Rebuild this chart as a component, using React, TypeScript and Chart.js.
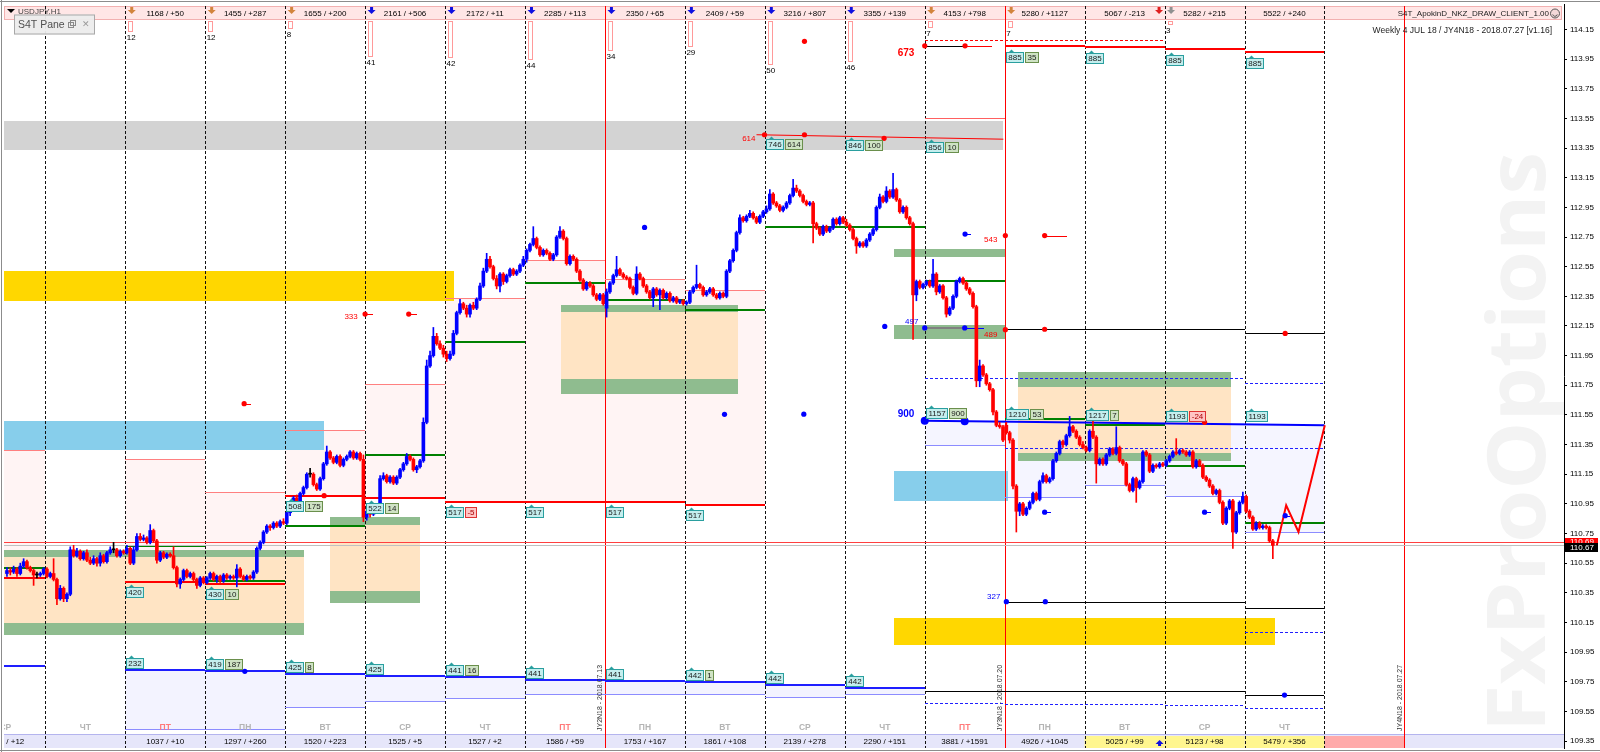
import React, { useEffect, useRef } from "react";
import { Chart, registerables } from "chart.js";

Chart.register(...registerables);

const FONT = '"Liberation Sans", "DejaVu Sans", sans-serif';

// x = hours counted from Thursday 00:00 (day 0); y = USDJPY price
const X_MIN = -12.39;
const X_MAX = 455.9;
const Y_MIN = 109.303;
const Y_MAX = 114.322;

const priceTicks = [114.15, 113.95, 113.75, 113.55, 113.35, 113.15, 112.95, 112.75, 112.55, 112.35, 112.15, 111.95, 111.75, 111.55, 111.35, 111.15, 110.95, 110.75, 110.55, 110.35, 110.15, 109.95, 109.75, 109.55, 109.35];

// ---- H1 candles [open, high, low, close] ----
const dayM1 = [
  [110.48,110.52,110.46,110.50],[110.50,110.52,110.47,110.49],[110.49,110.53,110.48,110.51],[110.51,110.52,110.46,110.48],
  [110.48,110.55,110.47,110.53],[110.53,110.58,110.52,110.56],[110.56,110.57,110.51,110.52],[110.52,110.53,110.49,110.50],
  [110.50,110.51,110.40,110.47],[110.47,110.49,110.45,110.47],[110.47,110.49,110.46,110.48],[110.48,110.52,110.47,110.51]];
const day0 = [
  [110.51,110.52,110.45,110.46],[110.46,110.49,110.45,110.48],[110.48,110.58,110.43,110.44],[110.44,110.45,110.27,110.31],
  [110.31,110.40,110.30,110.38],[110.38,110.39,110.29,110.31],[110.31,110.35,110.29,110.34],[110.34,110.66,110.33,110.64],
  [110.64,110.67,110.59,110.60],[110.60,110.65,110.59,110.63],[110.63,110.64,110.57,110.58],[110.58,110.63,110.57,110.62],
  [110.62,110.64,110.56,110.57],[110.57,110.59,110.54,110.55],[110.55,110.60,110.54,110.58],[110.58,110.59,110.53,110.55],
  [110.55,110.62,110.53,110.60],[110.60,110.61,110.55,110.56],[110.56,110.63,110.55,110.62],[110.62,110.66,110.61,110.64],
  [110.64,110.69,110.62,110.64],[110.64,110.65,110.59,110.60],[110.60,110.64,110.59,110.63],[110.63,110.64,110.61,110.62]];
const day1 = [
  [110.62,110.67,110.61,110.65],[110.65,110.66,110.54,110.55],[110.55,110.66,110.54,110.64],[110.64,110.75,110.63,110.73],
  [110.73,110.75,110.70,110.71],[110.71,110.74,110.70,110.72],[110.72,110.73,110.68,110.69],[110.69,110.81,110.68,110.77],
  [110.77,110.78,110.69,110.70],[110.70,110.71,110.55,110.57],[110.57,110.63,110.56,110.62],[110.62,110.63,110.58,110.59],
  [110.59,110.62,110.58,110.61],[110.61,110.62,110.59,110.60],[110.60,110.66,110.51,110.52],[110.52,110.53,110.39,110.41],
  [110.41,110.45,110.38,110.44],[110.44,110.51,110.43,110.50],[110.50,110.51,110.45,110.46],[110.46,110.49,110.45,110.48],
  [110.48,110.49,110.43,110.44],[110.44,110.45,110.38,110.40],[110.40,110.46,110.39,110.45],[110.45,110.46,110.41,110.42]];
const day2 = [
  [110.42,110.46,110.41,110.45],[110.45,110.49,110.44,110.48],[110.48,110.49,110.43,110.44],[110.44,110.47,110.42,110.46],
  [110.46,110.47,110.42,110.43],[110.43,110.48,110.42,110.47],[110.47,110.48,110.44,110.45],[110.45,110.47,110.44,110.46],
  [110.46,110.47,110.44,110.45],[110.45,110.54,110.39,110.51],[110.51,110.52,110.45,110.46],[110.46,110.47,110.43,110.44],
  [110.44,110.47,110.43,110.46],[110.46,110.47,110.44,110.45],[110.45,110.50,110.44,110.49],[110.49,110.66,110.48,110.65],
  [110.65,110.70,110.64,110.69],[110.69,110.77,110.68,110.76],[110.76,110.81,110.75,110.80],[110.80,110.81,110.77,110.79],
  [110.79,110.83,110.78,110.82],[110.82,110.83,110.79,110.80],[110.80,110.84,110.79,110.83],[110.83,110.85,110.81,110.82]];
const day3 = [
  [110.82,110.90,110.81,110.89],[110.89,110.92,110.87,110.91],[110.91,111.00,110.90,110.99],[110.99,111.01,110.96,110.97],
  [110.97,111.03,110.96,111.02],[111.02,111.07,111.01,111.06],[111.06,111.16,111.05,111.15],[111.15,111.19,111.13,111.15],
  [111.15,111.16,111.07,111.08],[111.08,111.09,111.04,111.05],[111.05,111.13,111.04,111.12],[111.12,111.23,111.11,111.22],
  [111.22,111.34,111.21,111.30],[111.30,111.31,111.25,111.26],[111.26,111.27,111.22,111.23],[111.23,111.28,111.22,111.27],
  [111.27,111.28,111.20,111.21],[111.21,111.26,111.20,111.25],[111.25,111.28,111.24,111.27],[111.27,111.31,111.26,111.30],
  [111.30,111.31,111.25,111.26],[111.26,111.30,111.25,111.29],[111.29,111.30,111.24,111.25],[111.25,111.28,110.83,110.86]];
const day4 = [
  [110.86,110.92,110.84,110.90],[110.90,110.91,110.86,110.88],[110.88,110.91,110.87,110.90],[110.90,110.95,110.89,110.94],
  [110.94,111.14,110.93,111.12],[111.12,111.16,111.11,111.14],[111.14,111.15,111.09,111.10],[111.10,111.14,111.09,111.13],
  [111.13,111.14,111.08,111.09],[111.09,111.14,111.08,111.13],[111.13,111.19,111.12,111.18],[111.18,111.23,111.17,111.22],
  [111.22,111.29,111.21,111.27],[111.27,111.28,111.24,111.25],[111.25,111.26,111.17,111.18],[111.18,111.21,111.16,111.20],
  [111.20,111.25,111.19,111.24],[111.24,111.53,111.23,111.50],[111.50,111.92,111.49,111.88],[111.88,111.98,111.87,111.95],
  [111.95,112.14,111.94,112.08],[112.08,112.10,112.02,112.03],[112.03,112.05,111.99,112.00],[112.00,112.02,111.94,111.96]];
const day5 = [
  [111.96,111.98,111.91,111.93],[111.93,111.98,111.92,111.96],[111.96,112.12,111.95,112.10],[112.10,112.25,112.09,112.24],
  [112.24,112.33,112.23,112.30],[112.30,112.31,112.26,112.27],[112.27,112.29,112.21,112.23],[112.23,112.30,112.21,112.29],
  [112.29,112.31,112.26,112.27],[112.27,112.34,112.26,112.33],[112.33,112.44,112.32,112.42],[112.42,112.54,112.41,112.52],
  [112.52,112.64,112.51,112.60],[112.60,112.62,112.54,112.55],[112.55,112.56,112.46,112.47],[112.47,112.49,112.40,112.42],
  [112.42,112.51,112.38,112.50],[112.50,112.51,112.43,112.45],[112.45,112.50,112.44,112.49],[112.49,112.54,112.48,112.53],
  [112.53,112.54,112.49,112.50],[112.50,112.53,112.49,112.52],[112.52,112.57,112.51,112.56],[112.56,112.62,112.55,112.60]];
const day6 = [
  [112.60,112.67,112.58,112.66],[112.66,112.71,112.65,112.70],[112.70,112.82,112.69,112.74],[112.74,112.75,112.67,112.68],
  [112.68,112.69,112.62,112.63],[112.63,112.67,112.62,112.66],[112.66,112.67,112.63,112.64],[112.64,112.65,112.59,112.60],
  [112.60,112.64,112.59,112.63],[112.63,112.76,112.62,112.75],[112.75,112.82,112.74,112.79],[112.79,112.80,112.73,112.74],
  [112.74,112.75,112.56,112.57],[112.57,112.63,112.56,112.62],[112.62,112.63,112.59,112.60],[112.60,112.61,112.51,112.52],
  [112.52,112.53,112.45,112.46],[112.46,112.47,112.39,112.40],[112.40,112.45,112.39,112.44],[112.44,112.45,112.41,112.42],
  [112.42,112.43,112.35,112.36],[112.36,112.37,112.32,112.33],[112.33,112.37,112.32,112.36],[112.36,112.37,112.29,112.30]];
const day7 = [
  [112.27,112.40,112.21,112.38],[112.38,112.45,112.37,112.44],[112.44,112.50,112.43,112.49],[112.49,112.62,112.48,112.53],
  [112.53,112.54,112.49,112.50],[112.50,112.51,112.47,112.48],[112.48,112.49,112.46,112.47],[112.47,112.48,112.40,112.41],
  [112.41,112.42,112.36,112.37],[112.37,112.55,112.36,112.50],[112.50,112.51,112.46,112.47],[112.47,112.48,112.41,112.42],
  [112.42,112.43,112.37,112.38],[112.38,112.39,112.33,112.34],[112.34,112.41,112.28,112.40],[112.40,112.41,112.35,112.36],
  [112.36,112.40,112.26,112.39],[112.39,112.40,112.33,112.34],[112.34,112.38,112.33,112.37],[112.37,112.38,112.31,112.32],
  [112.32,112.35,112.31,112.34],[112.34,112.35,112.30,112.31],[112.31,112.33,112.30,112.32],[112.32,112.33,112.29,112.30]];
const day8 = [
  [112.30,112.32,112.29,112.31],[112.31,112.39,112.30,112.38],[112.38,112.42,112.37,112.41],[112.41,112.56,112.40,112.43],
  [112.43,112.44,112.40,112.41],[112.41,112.42,112.35,112.36],[112.36,112.39,112.35,112.38],[112.38,112.41,112.37,112.40],
  [112.40,112.41,112.35,112.36],[112.36,112.37,112.33,112.34],[112.34,112.38,112.33,112.37],[112.37,112.38,112.34,112.35],
  [112.35,112.53,112.34,112.52],[112.52,112.60,112.51,112.59],[112.59,112.67,112.58,112.66],[112.66,112.79,112.65,112.78],
  [112.78,112.90,112.77,112.88],[112.88,112.89,112.85,112.86],[112.86,112.90,112.85,112.89],[112.89,112.93,112.88,112.91],
  [112.91,112.92,112.87,112.88],[112.88,112.89,112.84,112.85],[112.85,112.90,112.84,112.89],[112.89,112.93,112.88,112.92]];
const day9 = [
  [112.92,112.96,112.91,112.94],[112.94,113.07,112.93,113.04],[113.04,113.05,112.97,112.98],[112.98,112.99,112.95,112.96],
  [112.96,112.97,112.92,112.93],[112.93,112.96,112.92,112.95],[112.95,112.99,112.94,112.98],[112.98,113.04,112.97,113.03],
  [113.03,113.14,113.02,113.08],[113.08,113.10,113.05,113.06],[113.06,113.07,113.02,113.03],[113.03,113.04,112.98,112.99],
  [112.99,113.00,112.96,112.97],[112.97,112.99,112.96,112.98],[112.98,112.99,112.71,112.84],[112.84,112.85,112.80,112.81],
  [112.81,112.82,112.76,112.77],[112.77,112.83,112.76,112.82],[112.82,112.83,112.78,112.79],[112.79,112.82,112.78,112.81],
  [112.81,112.88,112.80,112.87],[112.87,112.88,112.83,112.84],[112.84,112.89,112.83,112.88],[112.88,112.89,112.84,112.85]];
const day10 = [
  [112.85,112.87,112.82,112.83],[112.83,112.84,112.79,112.80],[112.80,112.81,112.73,112.74],[112.74,112.75,112.64,112.69],
  [112.69,112.72,112.68,112.71],[112.71,112.72,112.68,112.69],[112.69,112.74,112.68,112.73],[112.73,112.78,112.72,112.77],
  [112.77,112.81,112.76,112.80],[112.80,112.96,112.79,112.95],[112.95,113.04,112.94,113.02],[113.02,113.03,112.98,112.99],
  [112.99,113.09,112.98,113.06],[113.06,113.07,113.01,113.02],[113.02,113.18,113.01,113.07],[113.07,113.08,112.99,113.00],
  [113.00,113.01,112.91,112.92],[112.92,112.96,112.91,112.95],[112.95,112.96,112.87,112.88],[112.88,112.89,112.83,112.84],
  [112.84,112.85,112.06,112.36],[112.36,112.46,112.32,112.45],[112.45,112.46,112.40,112.41],[112.41,112.44,112.40,112.43]];
const day11 = [
  [112.43,112.46,112.42,112.45],[112.45,112.46,112.41,112.42],[112.42,112.60,112.41,112.50],[112.50,112.51,112.36,112.38],
  [112.38,112.43,112.37,112.42],[112.42,112.43,112.33,112.34],[112.34,112.35,112.21,112.23],[112.23,112.28,112.22,112.27],
  [112.27,112.36,112.26,112.35],[112.35,112.46,112.34,112.45],[112.45,112.48,112.44,112.47],[112.47,112.48,112.43,112.44],
  [112.44,112.45,112.39,112.40],[112.40,112.41,112.36,112.37],[112.37,112.38,112.27,112.28],[112.28,112.29,111.74,111.78],
  [111.78,111.92,111.74,111.88],[111.88,111.89,111.81,111.82],[111.82,111.83,111.75,111.76],[111.76,111.77,111.71,111.72],
  [111.72,111.73,111.55,111.57],[111.57,111.58,111.47,111.48],[111.48,111.50,111.46,111.47],[111.47,111.48,111.37,111.38]];
const day12 = [
  [111.48,111.50,111.42,111.43],[111.43,111.44,111.36,111.38],[111.38,111.39,111.05,111.07],[111.07,111.08,110.76,110.90],
  [110.90,110.96,110.87,110.95],[110.95,110.96,110.87,110.88],[110.88,110.93,110.87,110.92],[110.92,110.97,110.91,110.96],
  [110.96,111.03,110.95,111.02],[111.02,111.03,110.97,110.98],[110.98,111.11,110.97,111.10],[111.10,111.16,111.09,111.14],
  [111.14,111.15,111.09,111.10],[111.10,111.13,111.09,111.12],[111.12,111.25,111.11,111.24],[111.24,111.30,111.23,111.29],
  [111.29,111.38,111.28,111.37],[111.37,111.38,111.33,111.35],[111.35,111.42,111.34,111.41],[111.41,111.54,111.40,111.47],
  [111.47,111.48,111.43,111.44],[111.44,111.45,111.39,111.40],[111.40,111.41,111.34,111.35],[111.35,111.37,111.32,111.33]];
const day13 = [
  [111.33,111.34,111.30,111.31],[111.31,111.45,111.30,111.44],[111.44,111.53,111.39,111.40],[111.40,111.41,111.09,111.22],
  [111.22,111.26,111.21,111.25],[111.25,111.26,111.21,111.22],[111.22,111.29,111.21,111.28],[111.28,111.33,111.27,111.32],
  [111.32,111.33,111.28,111.29],[111.29,111.47,111.28,111.33],[111.33,111.34,111.23,111.24],[111.24,111.25,111.21,111.22],
  [111.22,111.23,111.07,111.08],[111.08,111.09,111.03,111.04],[111.04,111.13,111.03,111.12],[111.12,111.13,110.96,111.06],
  [111.06,111.11,111.05,111.10],[111.10,111.31,111.09,111.30],[111.30,111.31,111.27,111.28],[111.28,111.29,111.16,111.17],
  [111.17,111.22,111.16,111.21],[111.21,111.22,111.19,111.20],[111.20,111.23,111.19,111.22],[111.22,111.23,111.20,111.21]];
const day14 = [
  [111.21,111.25,111.20,111.24],[111.24,111.28,111.23,111.27],[111.27,111.31,111.26,111.30],[111.30,111.39,111.28,111.29],
  [111.29,111.32,111.28,111.31],[111.31,111.32,111.29,111.30],[111.30,111.31,111.27,111.28],[111.28,111.31,111.27,111.30],
  [111.30,111.31,111.19,111.20],[111.20,111.25,111.19,111.24],[111.24,111.25,111.20,111.21],[111.21,111.22,111.12,111.13],
  [111.13,111.14,111.10,111.11],[111.11,111.12,111.06,111.07],[111.07,111.08,111.01,111.02],[111.02,111.05,111.01,111.04],
  [111.04,111.05,110.95,110.96],[110.96,110.97,110.81,110.82],[110.82,110.93,110.81,110.92],[110.92,110.98,110.91,110.97],
  [110.97,110.98,110.65,110.76],[110.76,110.90,110.75,110.89],[110.89,110.97,110.88,110.96],[110.96,111.03,110.95,111.00]];
const day15 = [
  [111.00,111.01,110.89,110.90],[110.90,110.91,110.85,110.86],[110.86,110.87,110.77,110.78],[110.78,110.83,110.77,110.82],
  [110.82,110.83,110.78,110.79],[110.79,110.81,110.78,110.80],[110.80,110.81,110.78,110.79],[110.79,110.80,110.69,110.70],
  [110.70,110.71,110.58,110.67]];

// [day index, first hour, bars]
const candleDays = [[-1, 12, dayM1], [0, 0, day0], [1, 0, day1], [2, 0, day2], [3, 0, day3], [4, 0, day4], [5, 0, day5], [6, 0, day6], [7, 0, day7], [8, 0, day8], [9, 0, day9], [10, 0, day10], [11, 0, day11], [12, 0, day12], [13, 0, day13], [14, 0, day14], [15, 0, day15]];

const bidPrice = 110.67;
const askPrice = 110.69;

// ---- zones [hourFrom, hourTo, priceA, priceB] ----
const grayZone = [X_MIN, 287.5, 113.34, 113.53];
const yellowZoneTop = [X_MIN, 122.7, 112.32, 112.52];
const blueZoneLeft = [X_MIN, 83.7, 111.31, 111.51];
const blueZoneRight = [254.9, 288.9, 110.97, 111.17];
const yellowZoneBottom = [254.9, 369.1, 109.995, 110.18];
// [hourFrom, hourTo, greenTop, peachTop, peachBottom, greenBottom]
const zoneBoxes = [
  [X_MIN, 77.7, 110.64, 110.59, 110.147, 110.065],
  [85.6, 112.5, 110.86, 110.81, 110.36, 110.28],
  [154.8, 207.9, 112.293, 112.241, 111.789, 111.688],
  [292.0, 356.0, 111.838, 111.738, 111.29, 111.24],
];
const greenBands = [[254.9, 288.2, 112.618, 112.667], [254.9, 288.2, 112.065, 112.159]];

// ---- daily levels [day, price] ----
const dayHighLine = [[-1, 111.31], [1, 111.25], [2, 111.03], [3, 111.45], [4, 111.756], [5, 112.34], [6, 112.595], [7, 112.466], [8, 112.394]];
const dayLowLine = [[-1, 110.45], [1, 110.42], [2, 110.41], [3, 111.005], [4, 110.99], [5, 110.96], [6, 110.96], [7, 110.96], [8, 110.94]];
const dayPivot = [[-1, 110.52], [1, 110.665], [2, 110.43], [3, 110.80], [4, 111.28], [5, 112.04], [6, 112.443], [7, 112.322], [8, 112.255], [9, 112.815], [10, 112.815], [11, 112.45], [12, 111.525], [13, 111.483], [14, 111.207], [15, 110.82]];
const weekLow = [[-1, 109.855], [1, 109.83], [2, 109.82], [3, 109.80], [4, 109.79], [5, 109.78], [6, 109.76], [7, 109.755], [8, 109.745], [9, 109.725], [10, 109.705]];
const weekLowInner = [[1, 109.43], [2, 109.43], [3, 109.58], [4, 109.62], [5, 109.64], [6, 109.67], [7, 109.67], [8, 109.67], [9, 109.65], [10, 109.67]];
const topLevel = [[12, 114.04], [13, 114.03], [14, 114.02], [15, 114.0]];
const trendLine = [[264, 111.51], [384, 111.48]];
const trendInner = [[11, 111.346], [12, 110.994], [13, 111.077], [14, 111.003], [15, 110.76]];
const line614 = [[213.5, 113.44], [287.6, 113.41]];

// ---- segments [hourFrom, hourTo, price] ----
const blackSegments = [[264, 276.1, 114.04], [288, 360, 112.128], [360, 384, 112.10], [288, 360, 110.285], [360, 384, 110.25], [264, 360, 109.69], [360, 384, 109.66]];
const redSegments = [[276.1, 284.2, 114.04], [300, 306.6, 112.76], [59.7, 61.7, 111.626], [96, 98.4, 112.23], [109.1, 111.5, 112.23]];
const redDashed = [[264, 336, 114.08]];
const redThin = [[264, 288, 113.55]];
const blueDashed = [[264, 360, 111.80], [360, 384, 111.765], [288, 384, 111.33], [264, 288, 109.607], [288, 336, 109.60], [336, 360, 109.59], [360, 384, 109.57], [360, 384, 110.085]];
const blueSegments = [[276, 281.7, 112.137], [276.1, 277.8, 112.77], [300, 301.8, 110.894], [348, 349.8, 110.894], [372.2, 373.7, 110.87]];
const graySegments = [[264, 276, 112.137]];

// ---- markers [hour, price] ----
const blueDots = [[179.9, 112.815], [203.9, 111.554], [227.7, 111.555], [252, 112.147], [264, 112.137], [276, 112.137], [276.1, 112.77], [300, 110.894], [348, 110.894], [372.2, 110.87], [288.5, 110.29], [300.2, 110.29], [372, 109.66], [59.9, 109.82]];
const bigBlueDots = [[264, 111.51], [276, 111.507]];
const redDots = [[59.7, 111.626], [96.0, 112.23], [109.1, 112.23], [83.7, 111.005], [215.9, 113.44], [227.9, 113.44], [251.8, 113.416], [227.9, 114.07], [264, 114.04], [276.1, 114.04], [288.2, 112.76], [300, 112.76], [288.2, 112.125], [300, 112.128], [372.2, 112.10], [348, 111.50]];
const forecastPath = [[369.7, 110.67], [372.5, 110.94], [376.2, 110.76], [384.1, 111.48]];

// ---- tags ----
const lowTags = [[1, "420"], [2, "430", "10"], [3, "508", "175"], [4, "522", "14"], [5, "517", "-5"], [6, "517"], [7, "517"], [8, "517"]];
const weekTags = [[1, "232"], [2, "419", "187"], [3, "425", "8"], [4, "425"], [5, "441", "16"], [6, "441"], [7, "441"], [8, "442", "1"], [9, "442"], [10, "442"]];
const tags614 = [[9, "746", "614"], [10, "846", "100"], [11, "856", "10"]];
const topTags = [[12, "885", "35"], [13, "885"], [14, "885"], [15, "885"]];
const trendTags = [[11, "1157", "900"], [12, "1210", "53"], [13, "1217", "7"], [14, "1193", "-24"], [15, "1193"]];
// [hour, price, text, colour key, bold]
const levelTexts = [[260.9, 113.993, "673", "r", true], [213.2, 113.415, "614", "r", false], [285.8, 112.73, "543", "r", false], [285.8, 112.09, "489", "r", false], [262.1, 112.18, "497", "b", false], [93.8, 112.21, "333", "r", false], [286.7, 110.32, "327", "b", false], [260.9, 111.555, "900", "b", true]];

// ---- header / footer (columns -1 .. 16) ----
const headerTexts = ["", "", "1168 / +50", "1455 / +287", "1655 / +200", "2161 / +506", "2172 / +11", "2285 / +113", "2350 / +65", "2409 / +59", "3216 / +807", "3355 / +139", "4153 / +798", "5280 / +1127", "5067 / -213", "5282 / +215", "5522 / +240"];
const headerArrows = ["", "", "o", "o", "o", "b", "b", "b", "b", "b", "b", "b", "o", "o", "R", "g", ""];
const headerCounts = [0, 0, 12, 12, 8, 41, 42, 44, 34, 29, 50, 46, 7, 7, 0, 3, 0];
const footerTexts = ["1027 / +12", "", "1037 / +10", "1297 / +260", "1520 / +223", "1525 / +5", "1527 / +2", "1586 / +59", "1753 / +167", "1861 / +108", "2139 / +278", "2290 / +151", "3881 / +1591", "4926 / +1045", "5025 / +99", "5123 / +98", "5479 / +356", ""];
const weekdays = ["СР", "ЧТ", "ПТ", "ПН", "ВТ", "СР", "ЧТ", "ПТ", "ПН", "ВТ", "СР", "ЧТ", "ПТ", "ПН", "ВТ", "СР", "ЧТ", ""];
const redSeparators = [7, 12, 17];
const contractLabels = [[7, "JY2N18 - 2018.07.13"], [12, "JY3N18 - 2018.07.20"], [17, "JY4N18 - 2018.07.27"]];

const candles: any[] = [];
candleDays.forEach(([d, start, bars]: any) => {
  bars.forEach((b: number[], i: number) => {
    candles.push({ x: d * 24 + start + i + 0.5, o: b[0], h: b[1], l: b[2], c: b[3] });
  });
});
const candleColor = (k: any) => (k.c > k.o ? "#0000ff" : k.c < k.o ? "#ff0000" : "#000000");

function drawTag(ctx: any, x: number, yTop: number, parts: string[]) {
  ctx.font = `8px ${FONT}`;
  ctx.textAlign = "center";
  ctx.textBaseline = "middle";
  let cx = Math.round(x) + 0.5;
  const top = Math.round(yTop) + 0.5;
  parts.forEach((t, i) => {
    const w = Math.round(ctx.measureText(t).width) + 4;
    let fill = "#c4eeee", stroke = "#2a9f9f", tc = "#1a1a1a";
    if (i > 0) {
      if (t.startsWith("-")) { fill = "#ffc4c4"; stroke = "#dd3333"; tc = "#aa0000"; }
      else { fill = "#cfe3c4"; stroke = "#6a8f4c"; }
    }
    ctx.fillStyle = fill;
    ctx.fillRect(cx, top, w, 10);
    ctx.strokeStyle = stroke;
    ctx.lineWidth = 1;
    ctx.strokeRect(cx, top, w, 10);
    ctx.fillStyle = tc;
    ctx.fillText(t, cx + w / 2, top + 5.5);
    if (i === 0) {
      ctx.fillStyle = stroke;
      ctx.beginPath();
      ctx.moveTo(cx + 5, top - 3);
      ctx.lineTo(cx + 8, top);
      ctx.lineTo(cx + 2, top);
      ctx.closePath();
      ctx.fill();
    }
    cx += w + 2;
  });
}

const mt4Plugin = {
  id: "mt4",
  beforeDraw(chart: any) {
    const { ctx, width, height } = chart;
    ctx.save();
    ctx.fillStyle = "#ffffff";
    ctx.fillRect(0, 0, width, height);
    ctx.restore();
  },
  beforeDatasetsDraw(chart: any) {
    const { ctx, chartArea: a } = chart;
    const xs = chart.scales.x, ys = chart.scales.y;
    const X = (h: number) => xs.getPixelForValue(h);
    const Y = (p: number) => ys.getPixelForValue(p);
    const dStart = (d: number) => (d < 0 ? X_MIN : d * 24);
    const dEnd = (d: number) => (d + 1) * 24;
    const zone = (h1: number, h2: number, p1: number, p2: number, color: string) => {
      const x1 = Math.round(X(h1)), x2 = Math.round(X(h2));
      const y1 = Math.round(Y(Math.max(p1, p2))), y2 = Math.round(Y(Math.min(p1, p2)));
      ctx.fillStyle = color;
      ctx.fillRect(x1, y1, x2 - x1, y2 - y1);
    };
    const hline = (h1: number, h2: number, p: number, color: string, w: number, dash?: number[]) => {
      const y = Math.round(Y(p)) + (w % 2 ? 0.5 : 0);
      ctx.beginPath();
      ctx.strokeStyle = color;
      ctx.lineWidth = w;
      ctx.setLineDash(dash || []);
      ctx.moveTo(Math.round(X(h1)), y);
      ctx.lineTo(Math.round(X(h2)), y);
      ctx.stroke();
      ctx.setLineDash([]);
    };

    ctx.save();
    ctx.beginPath();
    ctx.rect(a.left, a.top, a.right - a.left, a.bottom - a.top);
    ctx.clip();

    // watermark
    ctx.save();
    ctx.translate(a.right - 42, a.bottom - 16);
    ctx.rotate(-Math.PI / 2);
    ctx.font = `bold 80px "Open Sans", ${FONT}`;
    const wm = "FxProOptions";
    const ww = ctx.measureText(wm).width;
    ctx.scale(580 / ww, 1);
    ctx.fillStyle = "#f3f3f3";
    ctx.textAlign = "left";
    ctx.textBaseline = "middle";
    ctx.fillText(wm, 0, 0);
    ctx.restore();

    // day range fills
    dayHighLine.forEach(([d, hi]) => {
      const lo = dayLowLine.find((e) => e[0] === d);
      if (lo) zone(dStart(d), dEnd(d), hi, lo[1], "#fff4f4");
    });
    weekLow.forEach(([d, p]) => {
      const inner = weekLowInner.find((e) => e[0] === d);
      if (inner) zone(dStart(d), dEnd(d), p, inner[1], "#f3f3ff");
    });
    const trendAt = (h: number) => trendLine[0][1] + ((h - trendLine[0][0]) * (trendLine[1][1] - trendLine[0][1])) / (trendLine[1][0] - trendLine[0][0]);
    trendInner.forEach(([d, p]) => {
      const h1 = dStart(d), h2 = dEnd(d);
      ctx.fillStyle = "#f5f5ff";
      ctx.beginPath();
      ctx.moveTo(X(h1), Y(trendAt(h1)));
      ctx.lineTo(X(h2), Y(trendAt(h2)));
      ctx.lineTo(X(h2), Y(p));
      ctx.lineTo(X(h1), Y(p));
      ctx.closePath();
      ctx.fill();
    });

    // coloured zones
    zone(grayZone[0], grayZone[1], grayZone[2], grayZone[3], "#d3d3d3");
    zone(yellowZoneTop[0], yellowZoneTop[1], yellowZoneTop[2], yellowZoneTop[3], "#ffd700");
    zone(blueZoneLeft[0], blueZoneLeft[1], blueZoneLeft[2], blueZoneLeft[3], "#87ceeb");
    zone(blueZoneRight[0], blueZoneRight[1], blueZoneRight[2], blueZoneRight[3], "#87ceeb");
    zone(yellowZoneBottom[0], yellowZoneBottom[1], yellowZoneBottom[2], yellowZoneBottom[3], "#ffd700");
    zoneBoxes.forEach(([h1, h2, g1, p1, p2, g2]) => {
      zone(h1, h2, p1, p2, "#ffe4c4");
      zone(h1, h2, g1, p1, "#8fbc8f");
      zone(h1, h2, p2, g2, "#8fbc8f");
    });
    greenBands.forEach(([h1, h2, p1, p2]) => zone(h1, h2, p1, p2, "#8fbc8f"));

    // header and footer bands
    ctx.fillStyle = "#ffe6e6";
    ctx.fillRect(a.left, 6, a.right - a.left - 2, 14);
    ctx.strokeStyle = "#f2b0b0";
    ctx.lineWidth = 1;
    ctx.strokeRect(a.left + 0.5, 6.5, a.right - a.left - 3, 13);
    ctx.fillStyle = "#e6e6fa";
    ctx.fillRect(a.left, a.bottom - 13, a.right - a.left, 13);
    for (let k = 13; k <= 16; k++) {
      ctx.fillStyle = k === 16 ? "#ffaaaa" : "#fff68f";
      ctx.fillRect(X(k * 24), a.bottom - 12, X((k + 1) * 24) - X(k * 24), 12);
    }
    ctx.strokeStyle = "#b4b4ee";
    ctx.beginPath();
    ctx.moveTo(a.left, a.bottom - 13.5);
    ctx.lineTo(a.right, a.bottom - 13.5);
    ctx.stroke();

    // separators
    for (let k = 0; k <= 17; k++) {
      const red = redSeparators.includes(k);
      if (k > 16 && !red) continue;
      const x = Math.round(X(k * 24)) + 0.5;
      ctx.beginPath();
      ctx.strokeStyle = red ? "#ff0000" : "#111111";
      ctx.lineWidth = 1;
      ctx.setLineDash(red ? [] : [3, 2]);
      ctx.moveTo(x, 6);
      ctx.lineTo(x, a.bottom);
      ctx.stroke();
    }
    ctx.setLineDash([]);

    // level lines
    dayHighLine.forEach(([d, p]) => hline(dStart(d), dEnd(d), p, "#ff8080", 1));
    dayLowLine.forEach(([d, p]) => hline(dStart(d), dEnd(d), p, "#ff0000", 2));
    dayPivot.forEach(([d, p]) => hline(dStart(d), dEnd(d), p, "#008000", 2));
    weekLow.forEach(([d, p]) => hline(dStart(d), dEnd(d), p, "#1e1eff", 2));
    weekLowInner.forEach(([d, p]) => hline(dStart(d), dEnd(d), p, "#8c8cff", 1));
    trendInner.forEach(([d, p]) => hline(dStart(d), dEnd(d), p, "#8c8cff", 1));
    topLevel.forEach(([d, p]) => hline(dStart(d), dEnd(d), p, "#ff0000", 2));
    redDashed.forEach(([h1, h2, p]) => hline(h1, h2, p, "#ff0000", 1, [3, 2]));
    redThin.forEach(([h1, h2, p]) => hline(h1, h2, p, "#ff6060", 1));
    blackSegments.forEach(([h1, h2, p]) => hline(h1, h2, p, "#000000", 1));
    redSegments.forEach(([h1, h2, p]) => hline(h1, h2, p, "#ff0000", 1));
    blueDashed.forEach(([h1, h2, p]) => hline(h1, h2, p, "#2020ff", 1, [3, 2]));
    blueSegments.forEach(([h1, h2, p]) => hline(h1, h2, p, "#0000ff", 1));
    graySegments.forEach(([h1, h2, p]) => hline(h1, h2, p, "#808080", 2));
    // sloped levels
    ctx.beginPath();
    ctx.strokeStyle = "#ff0000";
    ctx.lineWidth = 1;
    ctx.moveTo(X(line614[0][0]), Y(line614[0][1]));
    ctx.lineTo(X(line614[1][0]), Y(line614[1][1]));
    ctx.stroke();
    ctx.beginPath();
    ctx.strokeStyle = "#0000ff";
    ctx.lineWidth = 2;
    ctx.moveTo(X(trendLine[0][0]), Y(trendLine[0][1]));
    ctx.lineTo(X(trendLine[1][0]), Y(trendLine[1][1]));
    ctx.stroke();

    // bid / ask
    hline(X_MIN, X_MAX, askPrice, "#ff4040", 1);
    hline(X_MIN, X_MAX, bidPrice, "#c0c0c0", 1);

    ctx.restore();
  },
  afterDatasetsDraw(chart: any) {
    const { ctx, chartArea: a } = chart;
    const xs = chart.scales.x, ys = chart.scales.y;
    const X = (h: number) => xs.getPixelForValue(h);
    const Y = (p: number) => ys.getPixelForValue(p);
    const sep = (k: number) => X(k * 24);
    const colMid = (k: number) => (X(k * 24) + X((k + 1) * 24)) / 2;

    ctx.save();
    ctx.beginPath();
    ctx.rect(a.left, a.top, a.right - a.left, a.bottom - a.top);
    ctx.clip();

    // tags
    lowTags.forEach(([d, ...t]: any) => {
      const p = dayLowLine.find((e) => e[0] === d)![1];
      drawTag(ctx, sep(d) + 1, Y(p) + 5, t);
    });
    weekTags.forEach(([d, ...t]: any) => {
      const p = weekLow.find((e) => e[0] === d)![1];
      drawTag(ctx, sep(d) + 1, Y(p) - 12, t);
    });
    tags614.forEach(([d, ...t]: any) => {
      const h = d * 24;
      const p = line614[0][1] + ((h - line614[0][0]) * (line614[1][1] - line614[0][1])) / (line614[1][0] - line614[0][0]);
      drawTag(ctx, sep(d) + 1, Y(p) + 4, t);
    });
    topTags.forEach(([d, ...t]: any) => {
      const p = topLevel.find((e) => e[0] === d)![1];
      drawTag(ctx, sep(d) + 1, Y(p) + 6, t);
    });
    trendTags.forEach(([d, ...t]: any) => {
      const h = d * 24;
      const p = trendLine[0][1] + ((h - trendLine[0][0]) * (trendLine[1][1] - trendLine[0][1])) / (trendLine[1][0] - trendLine[0][0]);
      drawTag(ctx, sep(d) + 1, Y(p) - 13, t);
    });

    // level texts
    ctx.textAlign = "right";
    ctx.textBaseline = "middle";
    levelTexts.forEach(([h, p, t, c, b]: any) => {
      ctx.font = b ? `bold 10px ${FONT}` : `8px ${FONT}`;
      ctx.fillStyle = c === "r" ? "#ff0000" : "#0000ff";
      ctx.fillText(t, X(h), Y(p));
    });

    // header texts, arrows, counts
    ctx.font = `8px ${FONT}`;
    ctx.textAlign = "center";
    ctx.fillStyle = "#000";
    headerTexts.forEach((t, i) => {
      const k = i - 1;
      if (t) {
        ctx.fillStyle = "#000";
        ctx.textAlign = "center";
        ctx.fillText(t, colMid(k), 13.5);
      }
      const arr = headerArrows[i];
      if (arr) {
        const col = arr === "o" ? "#d2843c" : arr === "b" ? "#1010e0" : arr === "R" ? "#e02020" : "#909090";
        const ax = arr === "R" ? sep(k + 1) - 9 : sep(k) + 3;
        ctx.fillStyle = col;
        ctx.fillRect(ax + 2, 7, 3, 3);
        ctx.beginPath();
        ctx.moveTo(ax - 0.5, 10);
        ctx.lineTo(ax + 7.5, 10);
        ctx.lineTo(ax + 3.5, 14);
        ctx.closePath();
        ctx.fill();
      }
      const n = headerCounts[i];
      if (n) {
        const rx = Math.round(sep(k)) + 3.5;
        const hgt = Math.round(n * 0.86);
        ctx.strokeStyle = "#ff9a9a";
        ctx.lineWidth = 1;
        ctx.strokeRect(rx, 21.5, 4, hgt);
        ctx.fillStyle = "#000";
        ctx.textAlign = "left";
        ctx.fillText(String(n), sep(k) + 1.5, 21 + hgt + 7);
      }
    });

    // footer
    ctx.font = `bold 8.5px ${FONT}`;
    ctx.textAlign = "center";
    weekdays.forEach((t, i) => {
      if (!t) return;
      const k = i - 1;
      ctx.fillStyle = t === "ПТ" ? "#ff7a7a" : "#b4b4b4";
      ctx.fillText(t, colMid(k), a.bottom - 20);
    });
    ctx.font = `8px ${FONT}`;
    ctx.fillStyle = "#000";
    footerTexts.forEach((t, i) => {
      if (!t) return;
      ctx.fillText(t, colMid(i - 1), a.bottom - 6);
    });
    // small blue up arrow in footer
    ctx.fillStyle = "#1010e0";
    const fx = sep(14) - 9;
    ctx.beginPath();
    ctx.moveTo(fx, a.bottom - 4);
    ctx.lineTo(fx + 8, a.bottom - 4);
    ctx.lineTo(fx + 4, a.bottom - 8);
    ctx.closePath();
    ctx.fill();
    ctx.fillRect(fx + 2.5, a.bottom - 4, 3, 2);

    // contract labels
    ctx.font = `7px ${FONT}`;
    ctx.fillStyle = "#333";
    contractLabels.forEach(([k, t]: any) => {
      ctx.save();
      ctx.translate(sep(k) - 4.5, a.bottom - 17);
      ctx.rotate(-Math.PI / 2);
      ctx.textAlign = "left";
      ctx.textBaseline = "middle";
      ctx.fillText(t, 0, 0);
      ctx.restore();
    });

    // top-left captions
    ctx.textAlign = "left";
    ctx.textBaseline = "middle";
    ctx.font = `8px ${FONT}`;
    ctx.fillStyle = "#444";
    ctx.fillText("USDJPY,H1", a.left + 14, 12);
    ctx.fillStyle = "#000";
    ctx.beginPath();
    ctx.moveTo(a.left + 3, 9);
    ctx.lineTo(a.left + 11, 9);
    ctx.lineTo(a.left + 7, 13);
    ctx.closePath();
    ctx.fill();
    ctx.fillStyle = "rgba(236,236,236,0.95)";
    ctx.fillRect(a.left + 10, 14.5, 81, 20);
    ctx.strokeStyle = "#a8a8a8";
    ctx.strokeRect(a.left + 10.5, 15, 80, 19);
    ctx.fillStyle = "#505050";
    ctx.font = `10.5px ${FONT}`;
    ctx.fillText("S4T Pane", a.left + 14, 25);
    ctx.strokeStyle = "#8a8a8a";
    ctx.strokeRect(a.left + 64.5, 22.5, 5, 5);
    ctx.strokeRect(a.left + 66.5, 20.5, 5, 5);
    ctx.font = `bold 9px ${FONT}`;
    ctx.fillStyle = "#9a9a9a";
    ctx.fillText("✕", a.left + 78, 25);

    // top-right captions
    ctx.textAlign = "right";
    ctx.font = `8px ${FONT}`;
    ctx.fillStyle = "#222";
    ctx.fillText("S4T_ApokinD_NKZ_DRAW_CLIENT_1.00", a.right - 15, 13.5);
    ctx.beginPath();
    ctx.arc(a.right - 9, 13.5, 4.5, 0, Math.PI * 2);
    ctx.fillStyle = "#f4d8d8";
    ctx.fill();
    ctx.strokeStyle = "#555";
    ctx.stroke();
    ctx.beginPath();
    ctx.arc(a.right - 9, 14, 2.3, 0.2, Math.PI - 0.2);
    ctx.stroke();
    ctx.font = `8.5px ${FONT}`;
    ctx.fillStyle = "#222";
    ctx.fillText("Weekly 4 JUL 18 / JY4N18 - 2018.07.27 [v1.16]", a.right - 12, 31);
    ctx.restore();
  },
  afterDraw(chart: any) {
    const { ctx, chartArea: a } = chart;
    const ys = chart.scales.y;
    ctx.save();
    ctx.font = `8px ${FONT}`;
    ctx.textAlign = "left";
    ctx.textBaseline = "middle";
    const ya = ys.getPixelForValue(askPrice);
    const yb = ys.getPixelForValue(bidPrice);
    ctx.fillStyle = "#ff0000";
    ctx.fillRect(a.right + 1, Math.round(ya) - 4, 33, 8);
    ctx.fillStyle = "#ffffff";
    ctx.fillText(askPrice.toFixed(2), a.right + 6, ya - 1);
    ctx.fillStyle = "#000000";
    ctx.fillRect(a.right + 1, Math.round(yb) - 2, 33, 9);
    ctx.fillStyle = "#ffffff";
    ctx.fillText(bidPrice.toFixed(2), a.right + 6, yb + 2.5);
    // window frame
    ctx.strokeStyle = "#8c8c8c";
    ctx.lineWidth = 1;
    ctx.beginPath();
    ctx.moveTo(1.5, 0);
    ctx.lineTo(1.5, chart.height);
    ctx.moveTo(0, 1.5);
    ctx.lineTo(chart.width, 1.5);
    ctx.moveTo(0, chart.height - 1.5);
    ctx.lineTo(chart.width, chart.height - 1.5);
    ctx.stroke();
    ctx.restore();
  },
};

function makeConfig(): any {
  const colors = candles.map(candleColor);
  return {
    type: "bar",
    data: {
      datasets: [
        {
          type: "scatter",
          data: bigBlueDots.map(([x, y]) => ({ x, y })),
          pointRadius: 4,
          pointBackgroundColor: "#0000ff",
          pointBorderWidth: 0,
          order: 0,
        },
        {
          type: "scatter",
          data: blueDots.map(([x, y]) => ({ x, y })),
          pointRadius: 2.6,
          pointBackgroundColor: "#0000ff",
          pointBorderWidth: 0,
          order: 1,
        },
        {
          type: "scatter",
          data: redDots.map(([x, y]) => ({ x, y })),
          pointRadius: 2.6,
          pointBackgroundColor: "#ff0000",
          pointBorderWidth: 0,
          order: 1,
        },
        {
          type: "line",
          data: forecastPath.map(([x, y]) => ({ x, y })),
          borderColor: "#ff0000",
          borderWidth: 2,
          pointRadius: 0,
          tension: 0,
          fill: false,
          order: 2,
        },
        {
          type: "bar",
          data: candles.map((k) => ({ x: k.x, y: [Math.min(k.o, k.c), Math.max(k.o, k.c)] })),
          backgroundColor: colors,
          barThickness: 3,
          minBarLength: 1,
          grouped: false,
          borderWidth: 0,
          order: 3,
        },
        {
          type: "bar",
          data: candles.map((k) => ({ x: k.x, y: [k.l, k.h] })),
          backgroundColor: colors,
          barThickness: 1,
          grouped: false,
          borderWidth: 0,
          order: 4,
        },
      ],
    },
    options: {
      responsive: false,
      animation: false,
      devicePixelRatio: 1,
      events: [],
      layout: { padding: { left: 3, top: 3, right: 0, bottom: 2 } },
      plugins: { legend: { display: false }, tooltip: { enabled: false } },
      scales: {
        x: { type: "linear", min: X_MIN, max: X_MAX, display: false, offset: false, grid: { offset: false } },
        y: {
          type: "linear",
          position: "right",
          min: Y_MIN,
          max: Y_MAX,
          beginAtZero: false,
          afterBuildTicks: (s: any) => {
            s.ticks = priceTicks.map((v) => ({ value: v }));
          },
          afterFit: (s: any) => {
            s.width = 36;
            s.paddingTop = 0;
            s.paddingBottom = 0;
          },
          ticks: {
            autoSkip: false,
            font: { family: "Liberation Sans", size: 8 },
            color: "#000",
            padding: 3,
            callback: (v: any) => Number(v).toFixed(2),
          },
          grid: { drawOnChartArea: false, drawTicks: true, tickLength: 3, color: "#000" },
          border: { display: true, color: "#000" },
        },
      },
    },
    plugins: [mt4Plugin],
  };
}

export default function App() {
  const ref = useRef<HTMLCanvasElement>(null);
  useEffect(() => {
    if (!ref.current) return;
    const chart = new Chart(ref.current, makeConfig());
    return () => chart.destroy();
  }, []);
  return (
    <div style={{ position: "fixed", left: 0, top: 0, width: 1600, height: 752, background: "#fff" }}>
      <canvas ref={ref} width={1600} height={752} style={{ display: "block", width: 1600, height: 752 }} />
    </div>
  );
}
